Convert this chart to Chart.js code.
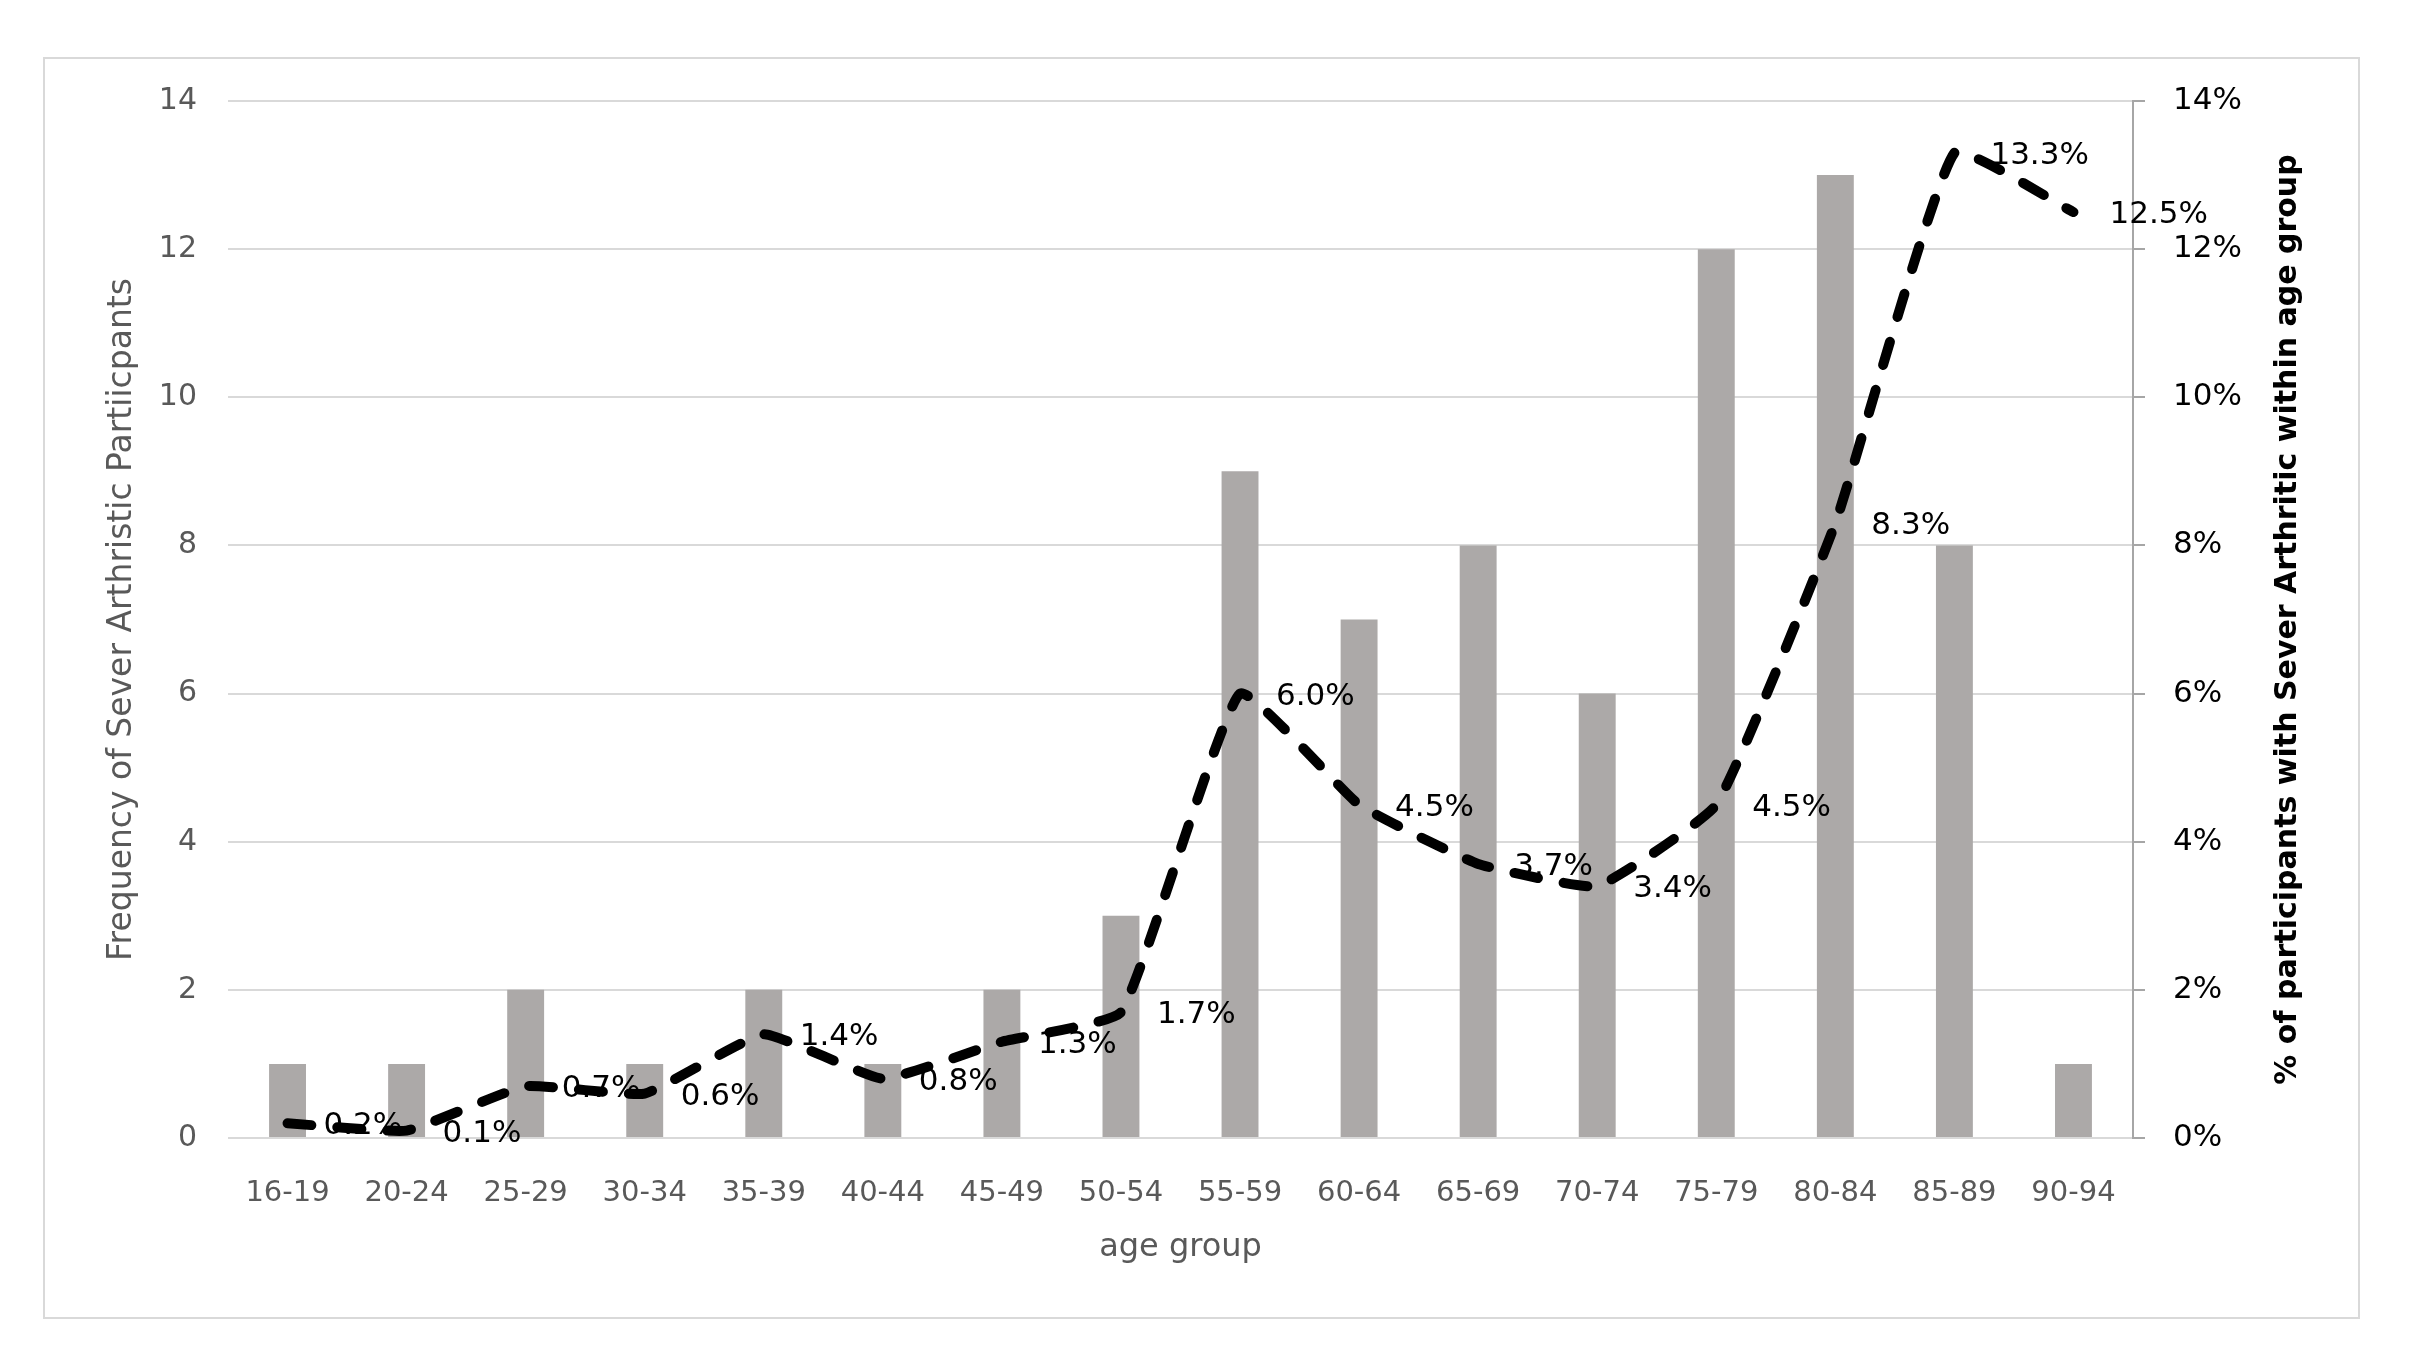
<!DOCTYPE html>
<html>
<head>
<meta charset="utf-8">
<title>Severe arthritis by age group</title>
<script src="https://cdn.jsdelivr.net/npm/chart.js@4.4.0/dist/chart.umd.min.js"></script>
<style>
  html, body { margin: 0; padding: 0; background: #fff; }
  #frame {
    position: absolute;
    left: 43px; top: 57px;
    width: 2317px; height: 1262px;
    box-sizing: border-box;
    border: 2px solid #d9d9d9;
  }
</style>
</head>
<body>
<div id="frame"><canvas id="age-chart"></canvas></div>
<script>
// Data
const ageGroups = ['16-19', '20-24', '25-29', '30-34', '35-39', '40-44', '45-49', '50-54',
                   '55-59', '60-64', '65-69', '70-74', '75-79', '80-84', '85-89', '90-94'];
const frequency = [1, 1, 2, 1, 2, 1, 2, 3, 9, 7, 8, 6, 12, 13, 8, 1];
const percentWithin = [0.2, 0.1, 0.7, 0.6, 1.4, 0.8, 1.3, 1.7, 6.0, 4.5, 3.7, 3.4, 4.5, 8.3, 13.3, 12.5];

const FONT = "'DejaVu Sans', 'Liberation Sans', sans-serif";
const GREY_TEXT = '#595959';

const AgeChart = {
  chart: null,

  /**
   * Labels to the right of each point of the % line
   */
  pointLabels: {
    id: 'pointLabels',
    afterDatasetsDraw(chart) {
      const meta = chart.getDatasetMeta(1);
      const ctx = chart.ctx;
      ctx.save();
      ctx.font = '31px ' + FONT;
      ctx.fillStyle = '#000';
      ctx.textAlign = 'left';
      ctx.textBaseline = 'middle';
      meta.data.forEach((pt, i) => {
        ctx.fillText(percentWithin[i].toFixed(1) + '%', pt.x + 36, pt.y + 3);
      });
      ctx.restore();
    }
  },

  /**
   * Right axis title reads bottom-to-top like the left one
   */
  rightTitle: {
    id: 'rightTitle',
    afterDraw(chart) {
      const scale = chart.scales.y1;
      const area = chart.chartArea;
      const ctx = chart.ctx;
      ctx.save();
      ctx.translate(scale.left + 155, (area.top + area.bottom) / 2);
      ctx.rotate(-Math.PI / 2);
      ctx.font = 'bold 30px ' + FONT;
      ctx.fillStyle = '#000';
      ctx.textAlign = 'center';
      ctx.textBaseline = 'middle';
      ctx.fillText('% of participants with Sever Arthritic within age group', 0, 0);
      ctx.restore();
    }
  },

  // fixed width, and no extra top/bottom room for the end labels
  fitVertical: function(width) {
    return (scale) => {
      scale.width = width;
      scale.paddingTop = 0;
      scale.paddingBottom = 0;
    };
  },

  init: function() {
    const ctx = document.getElementById('age-chart');
    this.chart = new Chart(ctx, {
      data: {
        labels: ageGroups,
        datasets: [{
          type: 'bar',
          label: 'Frequency',
          data: frequency,
          backgroundColor: '#aca9a8',
          barPercentage: 0.31,
          categoryPercentage: 1,
          yAxisID: 'y',
          order: 2
        }, {
          type: 'line',
          label: '% within age group',
          data: percentWithin,
          borderColor: '#000',
          borderWidth: 10,
          borderDash: [24, 26],
          borderCapStyle: 'round',
          borderJoinStyle: 'round',
          tension: 0.12,
          pointRadius: 0,
          fill: false,
          yAxisID: 'y1',
          order: 1
        }]
      },
      options: {
        responsive: true,
        maintainAspectRatio: false,
        animation: false,
        layout: { padding: { top: 42, left: 0, right: 0, bottom: 0 } },
        plugins: {
          legend: { display: false },
          tooltip: { enabled: false }
        },
        scales: {
          x: {
            grid: { display: false },
            border: { display: false },
            ticks: {
              color: GREY_TEXT,
              font: { family: FONT, size: 29 },
              padding: 30,
              maxRotation: 0,
              autoSkip: false
            },
            title: {
              display: true,
              text: 'age group',
              color: GREY_TEXT,
              font: { family: FONT, size: 32 },
              padding: { top: 0, bottom: 50 }
            },
            afterFit: (scale) => { scale.height = 179; }
          },
          y: {
            position: 'left',
            min: 0,
            max: 14,
            ticks: {
              stepSize: 2,
              color: GREY_TEXT,
              font: { family: FONT, size: 30 },
              padding: 31
            },
            grid: { color: '#d9d9d9', lineWidth: 2, drawTicks: false },
            border: { display: false },
            title: {
              display: true,
              text: 'Frequency of Sever Arthristic Partiicpants',
              color: GREY_TEXT,
              font: { family: FONT, size: 33 },
              padding: { top: 58, bottom: 0 }
            },
            afterFit: this.fitVertical(183)
          },
          y1: {
            position: 'right',
            min: 0,
            max: 14,
            ticks: {
              stepSize: 2,
              color: '#000',
              font: { family: FONT, size: 31 },
              padding: 28,
              callback: (v) => v + '%'
            },
            grid: { drawOnChartArea: false, drawTicks: true, tickLength: 12, color: '#a6a6a6', lineWidth: 2 },
            border: { display: true, color: '#a6a6a6', width: 2 },
            afterFit: this.fitVertical(225)
          }
        }
      },
      plugins: [this.pointLabels, this.rightTitle]
    });
  }
};

AgeChart.init();
</script>
</body>
</html>
